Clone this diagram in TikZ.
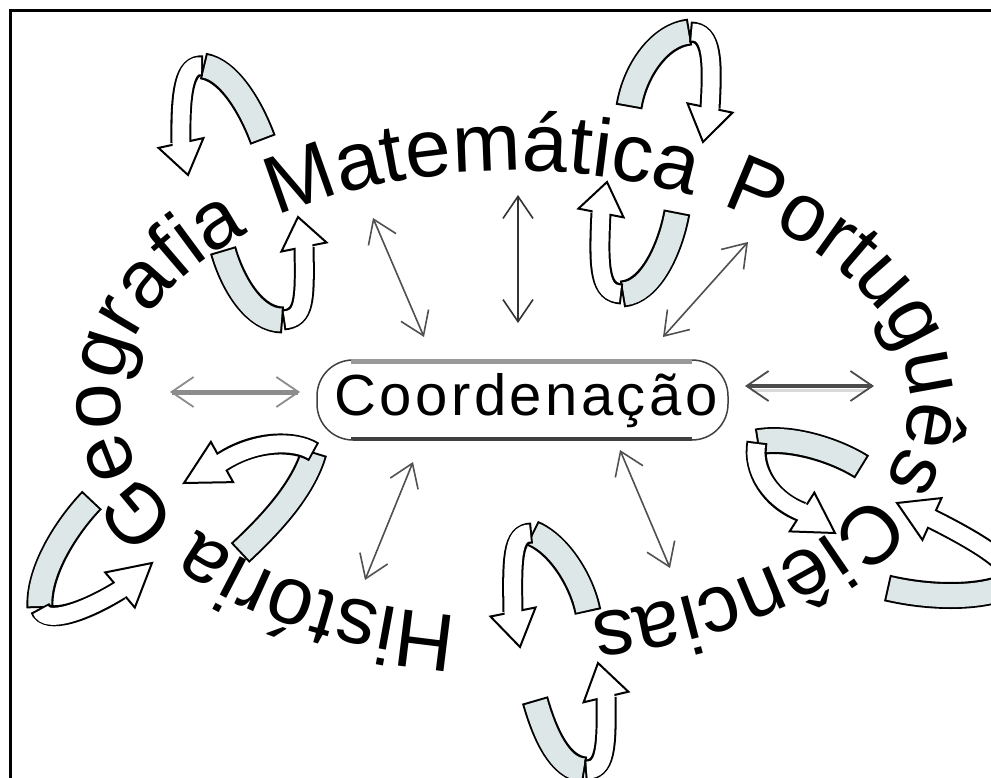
\documentclass[tikz,border=0pt]{standalone}
\usepackage{fontspec}
\setmainfont{Liberation Sans}
\usetikzlibrary{decorations.text,arrows.meta,calc}
\definecolor{bandfill}{RGB}{221,231,231}
\definecolor{arrgray}{RGB}{80,80,80}
\newcommand\bigword{\fontsize{82}{82}\selectfont}
\newcommand\mkloop[8]{%
  \draw[bandout] #1 .. controls #2 and #3 .. #4;
  \draw[bandin] #1 .. controls #2 and #3 .. #4;
  \draw[shaftout] #4 .. controls #5 and #6 .. #7;
  \draw[headst] ($#7!23pt!90:#8$) -- #8 -- ($#7!23pt!-90:#8$) -- cycle;
  \draw[shaftin] #4 .. controls #5 and #6 .. #7;
}
\begin{document}
\begin{tikzpicture}[x=1pt,y=-1pt,
  >={Straight Barb[length=22pt,width=30pt,line width=1.6pt]},
  wordpath/.style={decorate,decoration={text along path,text align=left,text={|\bigword|#1}}},
  bandout/.style={line width=27pt,draw=black},
  bandin/.style={line width=23pt,draw=bandfill,shorten <=2pt,shorten >=2pt},
  shaftout/.style={line width=21pt,draw=black},
  shaftin/.style={line width=17pt,draw=white,shorten <=2pt,shorten >=-3pt},
  headst/.style={fill=white,draw=black,line width=2pt},
  thinarrow/.style={<->,draw=arrgray,line width=1.6pt}]
\path[use as bounding box] (0,0) rectangle (991,778);
\clip (0,0) rectangle (991,778);
\fill[white] (0,0) rectangle (991,778);
\draw[line width=3pt] (10,778) -- (10,11) -- (991,11);

% words on the ring
\path[wordpath=Geografia] ({515+395*cos(148)},{400+226*sin(148)}) arc[start angle=148,end angle=245,x radius=395,y radius=226];
\path[wordpath=Matemática] ({515+395*cos(233)},{400+229*sin(233)}) arc[start angle=233,end angle=305,x radius=395,y radius=229];
\path[wordpath=Português] ({515+395*cos(301.5)},{400+228*sin(301.5)}) arc[start angle=301.5,end angle=392,x radius=395,y radius=228];
\path[wordpath=Ciências] ({515+395*cos(25)},{400+218*sin(25)}) arc[start angle=25,end angle=95,x radius=395,y radius=218];
\path[wordpath=História] ({515+395*cos(98.3)},{400+218*sin(98.3)}) arc[start angle=98.3,end angle=160,x radius=395,y radius=218];

% central node
\node[draw=black!75,line width=1.5pt,rounded corners=36pt,minimum width=411pt,minimum height=80pt,inner sep=0pt] (cbox) at (522.5,400) {};
\draw[black!40,line width=5pt] ($(cbox.north west)+(35,2.5)$) -- ($(cbox.north east)+(-37,2.5)$);
\draw[black!75,line width=3.5pt] ($(cbox.south west)+(35,-2.5)$) -- ($(cbox.south east)+(-37,-2.5)$);
\node[anchor=base,inner sep=0pt,font={\fontsize{58}{58}\selectfont\addfontfeature{LetterSpace=6}}] (ctext) at (526,415) {Coordenação};

% double arrows
\coordinate (al1) at (170,392); \coordinate (al2) at (300,392);
\draw[<->,draw=black!45,line width=5pt,>={Straight Barb[length=22pt,width=30pt,line width=1.8pt]}] (al1) -- (al2);
\coordinate (ar1) at (745,386); \coordinate (ar2) at (874,386);
\draw[black!15,line width=3pt] (752,390.5) -- (866,390.5);
\draw[<->,draw=black!70,line width=3.5pt,>={Straight Barb[length=22pt,width=30pt,line width=1.8pt]}] (ar1) -- (ar2);
\coordinate (aul1) at (373,218); \coordinate (aul2) at (424,337);
\draw[thinarrow] (aul1) -- (aul2);
\coordinate (auc1) at (518,195); \coordinate (auc2) at (518,323);
\draw[thinarrow,draw=black!80,line width=2pt] (auc1) -- (auc2);
\coordinate (aur1) at (748,242); \coordinate (aur2) at (663,337);
\draw[thinarrow] (aur1) -- (aur2);
\coordinate (all1) at (413,462); \coordinate (all2) at (365,580);
\draw[thinarrow] (all1) -- (all2);
\coordinate (alr1) at (620,450); \coordinate (alr2) at (670,568);
\draw[thinarrow] (alr1) -- (alr2);

% loop arrows
\mkloop{(263,140)}{(250,105)}{(228,70)}{(203,66)}{(185,64)}{(180,90)}{(181,143)}{(188,175)}
\mkloop{(223,250)}{(233,285)}{(255,320)}{(283,320)}{(305,318)}{(305,300)}{(304,247)}{(298,217)}
\mkloop{(629,107)}{(635,70)}{(660,35)}{(690,32)}{(712,32)}{(713,60)}{(710,108)}{(703,142)}
\mkloop{(677,212)}{(670,250)}{(650,292)}{(622,294)}{(600,293)}{(598,270)}{(601,213)}{(607,182)}
\mkloop{(862,467)}{(835,450)}{(790,436)}{(757,442)}{(752,470)}{(770,500)}{(802,512)}{(835,533)}
\mkloop{(887,588)}{(930,598)}{(975,598)}{(1003,588)}{(1025,575)}{(1000,553)}{(932,519)}{(897,503)}
\mkloop{(92,500)}{(68,525)}{(38,570)}{(40,608)}{(46,625)}{(85,612)}{(120,590)}{(152,563)}
\mkloop{(240,553)}{(270,525)}{(303,490)}{(314,452)}{(295,440)}{(255,440)}{(222,462)}{(184,483)}
\mkloop{(588,612)}{(582,582)}{(560,545)}{(532,533)}{(512,533)}{(512,560)}{(513,612)}{(520,647)}
\mkloop{(535,700)}{(545,735)}{(560,768)}{(585,770)}{(605,770)}{(607,750)}{(606,697)}{(598,663)}
\end{tikzpicture}
\end{document}
